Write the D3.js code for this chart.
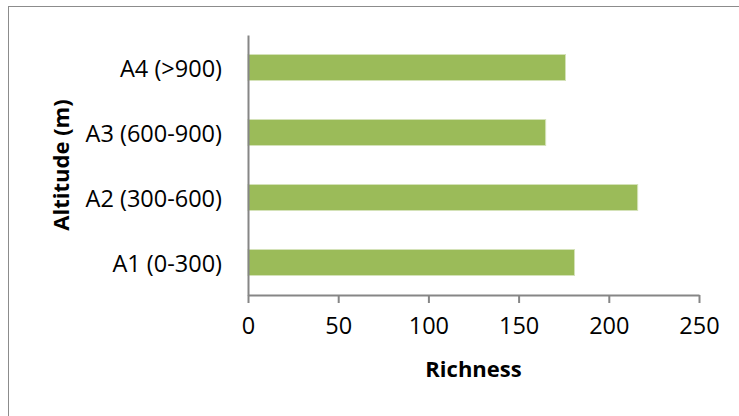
<!DOCTYPE html>
<html lang="en">

<head>
    <meta charset="utf-8">
    <title>Richness by altitude</title>
    <script src="https://cdn.jsdelivr.net/npm/d3@7/dist/d3.min.js"></script>
    <style>
        body {
            margin: 0;
            background: #fff;
        }

        svg {
            display: block;
            font-family: "Open Sans", "Noto Sans", sans-serif;
        }
    </style>
</head>

<body>
    <div id="chart"></div>

    <script type="text/javascript">
        var width = 739;
        var height = 416;

        var categories = ["A1 (0-300)", "A2 (300-600)", "A3 (600-900)", "A4 (>900)"];
        var richness = [181, 216, 165, 176];
        var xTicks = [0, 50, 100, 150, 200, 250];

        var plot = { left: 248, right: 699, top: 35, bottom: 295 };
        var axisColor = '#868686';

        var svg = d3.select('#chart')
            .append('svg')
            .attr('width', width)
            .attr('height', height);

        // outer chart frame, runs off the right and bottom edge
        svg.append('rect')
            .attr('x', 8.5)
            .attr('y', 6.5)
            .attr('width', 800)
            .attr('height', 450)
            .style('fill', 'none')
            .style('stroke', '#8c8c8c')
            .style('stroke-width', 1);

        var xScale = d3.scaleLinear()
            .domain([0, 250])
            .range([plot.left, plot.right]);

        // A1 at the bottom, A4 at the top
        var yScale = d3.scaleBand()
            .domain(categories.slice().reverse())
            .range([plot.top, plot.bottom])
            .paddingInner(0.6)
            .paddingOuter(0.3);

        svg.selectAll('rect.bar')
            .data(categories)
            .enter()
            .append('rect')
            .attr('class', 'bar')
            .attr('x', xScale(0))
            .attr('y', d => yScale(d))
            .attr('width', (d, i) => xScale(richness[i]) - xScale(0))
            .attr('height', yScale.bandwidth())
            .style('fill', '#9bbb59')
            .style('stroke', '#d4e2b8')
            .style('stroke-width', 1);

        // x axis
        var xAxis = svg.append('g')
            .attr('transform', `translate(0,${plot.bottom})`)
            .call(d3.axisBottom(xScale).tickValues(xTicks).tickSize(8).tickSizeOuter(0).tickPadding(14));

        xAxis.select('.domain').style('stroke', axisColor).style('stroke-width', 2);
        xAxis.selectAll('.tick line').style('stroke', axisColor).style('stroke-width', 2);
        xAxis.selectAll('.tick text')
            .style('font-family', '"Open Sans", sans-serif')
            .style('font-size', '23.5px')
            .style('fill', '#000');

        // y axis
        var yAxis = svg.append('g')
            .attr('transform', `translate(${plot.left},0)`)
            .call(d3.axisLeft(yScale).tickSize(0).tickSizeOuter(0).tickPadding(26));

        yAxis.select('.domain').style('stroke', axisColor).style('stroke-width', 2);
        yAxis.selectAll('.tick text')
            .attr('dy', '0.42em')
            .style('font-family', '"Open Sans", sans-serif')
            .style('font-size', '23.5px')
            .style('fill', '#000');

        // axis titles
        svg.append('text')
            .attr('x', (plot.left + plot.right) / 2)
            .attr('y', 377)
            .attr('text-anchor', 'middle')
            .style('font-size', '22px')
            .style('font-weight', 'bold')
            .text('Richness');

        svg.append('text')
            .attr('transform', `translate(69,${(plot.top + plot.bottom) / 2}) rotate(-90)`)
            .attr('text-anchor', 'middle')
            .style('font-size', '22px')
            .style('font-weight', 'bold')
            .text('Altitude (m)');
    </script>
</body>

</html>
